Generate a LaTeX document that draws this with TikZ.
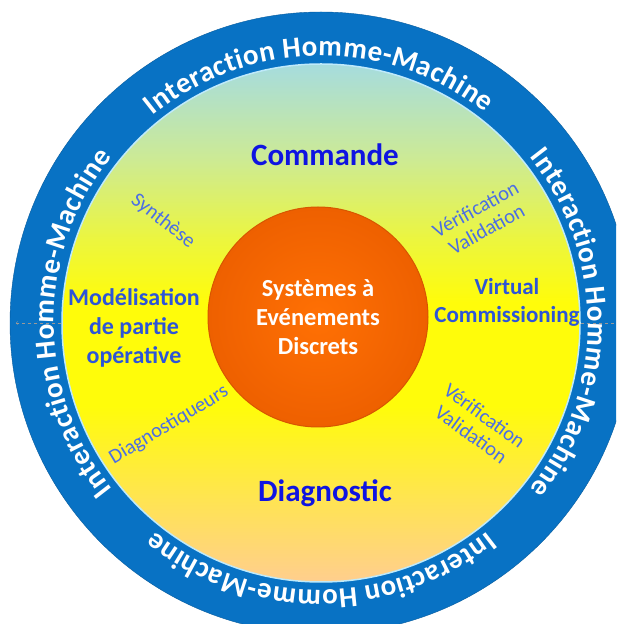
\documentclass[tikz,border=0pt]{standalone}
\usepackage{fontspec}
\setmainfont{Carlito}
\usetikzlibrary{positioning,decorations.text}

\definecolor{ringblue}{RGB}{8,114,196}
\definecolor{coreorange}{RGB}{255,112,4}
\definecolor{coredeep}{RGB}{238,96,0}
\definecolor{coreedge}{RGB}{215,86,0}
\definecolor{titleblue}{RGB}{15,20,225}
\definecolor{labelblue}{RGB}{45,85,215}
\definecolor{smallblue}{RGB}{75,110,228}
\definecolor{discA}{RGB}{255,206,142}
\definecolor{discB}{RGB}{255,228,82}
\definecolor{discC}{RGB}{255,252,10}
\definecolor{discD}{RGB}{236,246,62}
\definecolor{discE}{RGB}{204,234,150}
\definecolor{discF}{RGB}{166,220,222}
\pgfdeclareverticalshading{discshade}{100bp}{color(0bp)=(discA); color(25bp)=(discA); color(33bp)=(discB); color(42bp)=(discC); color(52bp)=(discC); color(58bp)=(discD); color(66bp)=(discE); color(75bp)=(discF); color(100bp)=(discF)}

\newcommand{\hmifont}{\bfseries\fontsize{29}{29}\selectfont}

\tikzset{
	hmi text/.style={decorate, decoration={text effects along path, text={Interaction Homme-Machine},
		text effects/.cd, text along path, fit text to path,
		characters={text=white, font=\hmifont, inner sep=0pt, anchor=base}}},
	title/.style={font=\bfseries\fontsize{31}{36}\selectfont, text=titleblue},
	label/.style={font=\bfseries\fontsize{24}{29}\selectfont, text=labelblue, align=center},
	small/.style={font=\fontsize{20.5}{23}\selectfont, text=smallblue, align=center}
}

\begin{document}
\begin{tikzpicture}[x=1pt, y=1pt, node distance=162pt]
			\useasboundingbox (0,0) rectangle (616,624);
			\clip (0,0) rectangle (616,624);
			\coordinate (c) at (321,301);
			
			\node (ring) [circle, fill=ringblue, draw=ringblue!80!black, minimum size=622pt, inner sep=0pt] at (c) {};
			\node (disc) [circle, shade, shading=discshade, draw=white!75!cyan, line width=1.5pt, minimum size=518pt, inner sep=0pt] at (c) {};
			
			\coordinate (tipL) at (16,301);
			\coordinate (tipR) at (616,301);
			\draw [dashed, gray!80, ->] (disc.west) -- (tipL);
			\draw [dashed, gray!80] (disc.east) -- (tipR);
			
			\begin{scope}[shift={(c)}]
			\path [hmi text] (129:267) arc[start angle=129, end angle=52, radius=267];
			\path [hmi text] (38.5:267) arc[start angle=38.5, end angle=-38.5, radius=267];
			\path [hmi text] (-51.5:267) arc[start angle=-51.5, end angle=-128.5, radius=267];
			\path [hmi text] (-141.5:267) arc[start angle=-141.5, end angle=-218.5, radius=267];
			\end{scope}
			
			\node (core) [circle, inner color=coreorange, outer color=coredeep, draw=coreedge, line width=1pt, minimum size=220pt, inner sep=0pt, text=white, align=center, font=\bfseries\fontsize{24.5}{29}\selectfont] at (318,307) {Systèmes à\\Evénements\\Discrets};
			\node (cmd) [title, above of=core, xshift=7pt] {Commande};
			\node (diag) [title, below of=core, xshift=7pt, node distance=176pt] {Diagnostic};
			\node (model) [label] at (134,296) {Modélisation\\de partie\\opérative};
			\node (vc) [label, font=\bfseries\fontsize{23}{28}\selectfont] at (507,322) {Virtual\\Commissioning};
			
			\node (synth) [small, rotate=-38] at (163,403) {Synthèse};
			\node (vvtop) [small, rotate=29] at (481,405) {Vérification\\Validation};
			\node (vvbot) [small, rotate=-36] at (478,199) {Vérification\\Validation};
			\node (diagq) [small, rotate=31] at (169,199) {Diagnostiqueurs};
		\end{tikzpicture}
\end{document}
